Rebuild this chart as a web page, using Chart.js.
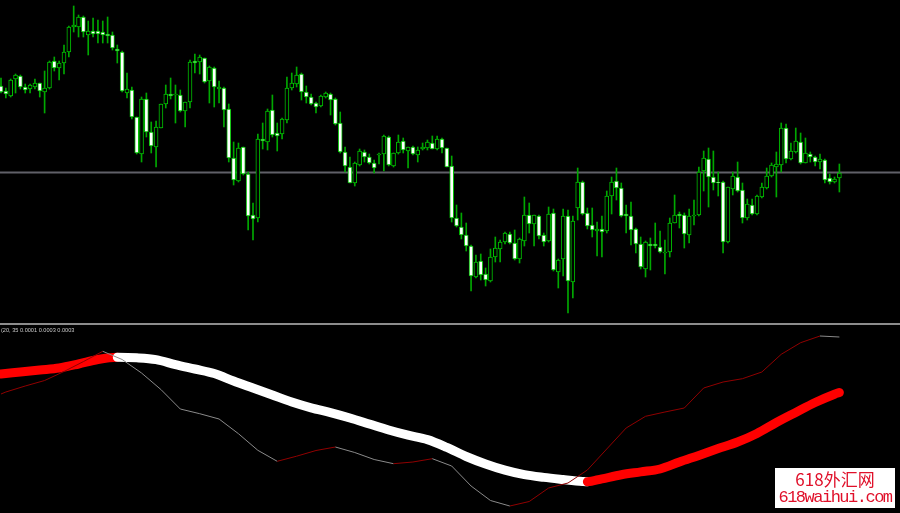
<!DOCTYPE html>
<html>
<head>
<meta charset="utf-8">
<script src="https://cdn.jsdelivr.net/npm/chart.js@4.4.1/dist/chart.umd.min.js"></script>
<style>
    html, body { margin: 0; padding: 0; background: #000; overflow: hidden; }
    #wrap { position: relative; width: 900px; height: 513px; background: #000; }
    #priceChart { position: absolute; left: 0; top: 0; }
    #sep { position: absolute; left: 0; top: 323px; width: 900px; height: 2px; background: #8c8c8c; }
    #indChart { position: absolute; left: 0; top: 325px; }
    #mark {
        position: absolute; left: 775px; top: 468px; width: 120px; height: 40px;
        background: #fff; color: #e0102a; text-align: center;
    }
    #mark .l1 { font: 17px "Noto Sans CJK SC"; line-height: 20px; margin-top: 1px; }
    #mark .l2 { font: 17px "Liberation Mono"; letter-spacing: -1.5px; line-height: 17px; }
</style>
</head>
<body>
<div id="wrap">
    <canvas id="priceChart" width="900" height="323"></canvas>
    <div id="sep"></div>
    <canvas id="indChart" width="900" height="188"></canvas>
    <div id="mark"><div class="l1">618外汇网</div><div class="l2">618waihui.com</div></div>
</div>
<script>
// Velas (una por barra), precios en puntos
const candleOpen = [
    314,309,304,321,324,313,311,313,317,308, 312,339,332,337,348,373,373,383,365,369,
    369,368,366,365,351,348,307,310,283,246, 301,268,253,272,296,306,305,305,289,298,
    339,338,342,319,332,311,312,291,242,219, 253,226,185,182,261,258,290,267,266,280,
    312,316,326,308,303,297,294,303,306,301, 277,248,233,217,235,248,243,237,245,246,
    263,234,247,259,249,253,245,251,252,257, 251,261,252,234,182,173,165,154,123,139,
    126,119,143,151,158,166,157,141,159,185, 176,184,165,159,187,128,141,184,118,192,
    218,187,175,169,171,169,204,219,212,186, 184,171,156,131,156,156,153,147,148,177,
    186,185,165,184,185,229,241,223,218,218, 158,211,223,210,182,195,186,203,212,224,
    233,235,272,241,248,258,237,246,243,238, 240,222,218,222
];
const candleHigh = [
    322,312,321,326,325,316,316,321,317,329, 339,343,339,355,374,394,385,384,379,382,
    380,379,383,368,355,349,327,313,283,303, 307,278,279,296,315,322,315,310,298,340,
    346,345,342,334,333,319,313,296,258,257, 253,228,197,266,277,291,305,277,282,323,
    327,333,327,314,306,298,305,308,307,302, 288,253,243,238,251,250,246,240,247,265,
    264,247,265,262,253,254,253,257,260,264, 264,262,252,244,195,187,177,155,145,146,
    132,151,163,160,168,168,170,162,203,197, 185,185,167,193,191,141,191,190,184,232,
    219,192,192,178,184,209,223,232,217,195, 198,172,163,159,162,177,169,160,182,205,
    188,187,191,200,233,249,252,249,228,219, 213,228,238,217,201,201,205,217,232,237,
    248,277,276,257,272,267,262,248,244,246, 241,226,223,236
];
const candleLow = [
    307,302,303,307,311,307,307,311,303,287, 311,329,320,326,343,368,363,363,345,363,
    357,357,357,350,337,308,302,281,246,238, 263,247,233,272,292,301,277,288,273,292,
    327,326,317,297,293,297,273,238,215,218, 225,170,160,178,251,250,263,249,261,277,
    310,313,300,297,295,287,293,302,285,275, 247,228,217,214,234,238,236,227,236,229,
    234,233,246,247,232,245,238,250,250,251, 250,247,233,178,173,161,149,109,122,120,
    114,118,138,138,156,156,140,137,154,167, 154,161,154,158,129,112,124,87,102,180,
    185,171,163,144,143,167,186,200,183,167, 155,147,131,123,130,152,147,126,143,177,
    172,152,157,175,184,209,193,210,204,147, 157,205,208,177,180,185,185,202,211,223,
    203,228,237,240,247,236,237,238,234,231, 217,216,217,208
];
const candleClose = [
    308,306,320,325,313,310,315,317,309,312, 338,332,337,348,373,375,383,368,369,366,
    366,365,364,352,349,309,311,283,247,301, 268,254,273,296,306,304,306,289,298,338,
    337,343,318,333,313,313,290,242,220,252, 226,184,181,261,259,289,265,264,281,312,
    317,325,308,303,296,293,304,307,300,276, 248,234,217,237,249,243,237,232,246,264,
    235,247,258,250,253,246,250,253,258,251, 261,252,233,182,174,165,154,124,138,125,
    120,143,152,158,167,157,141,161,185,176, 185,164,158,186,130,140,184,119,179,218,
    186,174,170,171,168,204,218,212,184,184, 170,156,133,158,154,154,148,148,177,185,
    184,166,184,185,228,242,223,217,217,158, 213,224,209,182,196,186,204,213,224,235,
    236,272,241,249,259,237,247,243,238,241, 220,218,221,227
];
const levelPrice = 227.5; // línea horizontal

// Indicador: línea gruesa (índice de barra, valor)
const slowIdx = [0,4,8,12,16,20,24,28,32,36,40,44,48,52,56,60,64,68,72,76,80,84,88,92,96,100,
    104,108,112,116,120,121,124,128,132,136,140,144,148,152,156,160,164,168,172,173];
const slowVal = [126,128,130,132,136,140.5,142.7,142.2,140.4,135.4,131,126.5,119,112,105,98,92.2,87.4,82,76,70,64.8,60.4,52.6,43.5,36,
    29.8,25.3,22.6,20.5,18.6,18.3,21.2,25.2,28.1,31,38,44.6,51.4,58,66.5,77.5,87.6,97.5,105.8,107.5];
// Indicador: línea fina
const fastIdx = [0,1,5,9,13,17,21,25,29,33,37,41,45,49,53,57,61,65,69,73,77,81,85,89,93,97,101,105,
    109,113,117,121,125,129,133,137,141,145,149,153,157,161,165,169,173];
const fastVal = [106,108,114,119.5,128.5,138.4,148.7,140.5,127,110.5,91,86.3,81,66.3,49.7,38.7,43.8,49.5,53,47.5,40.5,36.3,38,41.3,34,14,-0.5,-6,
    -1.5,12,17,30,51,72,83.7,88,92,112,118,121.3,128,145.7,157.3,164,163];
const indicatorLabel = '(20, 35 0.0001 0.0003 0.0003';

const wickGreen = '#00a800';
const bodyGreen = '#00c000';
const xMin = -0.206, xMax = 185.51;

const wickData = candleHigh.map((h, i) => ({ x: i, y: [candleLow[i], h] }));
const bodyData = candleOpen.map((o, i) => ({ x: i, y: [o, candleClose[i]] }));
const bodyFill = candleOpen.map((o, i) => candleClose[i] < o ? '#ffffff' : '#000000');

// Dibuja la línea horizontal de nivel con la escala del gráfico
const levelLine = {
    id: 'levelLine',
    beforeDatasetsDraw(chart) {
        const ctx = chart.ctx;
        const y = chart.scales.y.getPixelForValue(levelPrice);
        ctx.save();
        ctx.strokeStyle = '#606068';
        ctx.lineWidth = 2;
        ctx.beginPath();
        ctx.moveTo(chart.chartArea.left, y);
        ctx.lineTo(chart.chartArea.right, y);
        ctx.stroke();
        ctx.restore();
    }
};

new Chart(document.getElementById('priceChart'), {
    type: 'bar',
    data: {
        datasets: [
            {
                data: bodyData, order: 0, grouped: false, barThickness: 4,
                backgroundColor: bodyFill, borderColor: bodyGreen, borderWidth: 1, borderSkipped: false
            },
            {
                data: wickData, order: 1, grouped: false, barThickness: 1,
                backgroundColor: wickGreen, borderWidth: 0
            }
        ]
    },
    options: {
        responsive: false,
        animation: false,
        layout: { padding: 0 },
        plugins: { legend: { display: false }, tooltip: { enabled: false } },
        scales: {
            x: { type: 'linear', min: xMin, max: xMax, offset: false, display: false },
            y: { min: 77, max: 400, display: false }
        }
    },
    plugins: [levelLine]
});

const indLabel = {
    id: 'indLabel',
    afterDraw(chart) {
        const ctx = chart.ctx;
        ctx.save();
        ctx.font = '5.6px "Liberation Sans"';
        ctx.fillStyle = '#c8c8c8';
        ctx.textBaseline = 'top';
        ctx.fillText(indicatorLabel, 1, 3);
        ctx.restore();
    }
};

new Chart(document.getElementById('indChart'), {
    type: 'line',
    data: {
        datasets: [
            {
                data: fastIdx.map((x, i) => ({ x, y: fastVal[i] })),
                order: 0, borderWidth: 1, pointRadius: 0, tension: 0,
                segment: { borderColor: ctx => ctx.p1.parsed.y >= ctx.p0.parsed.y ? '#900000' : '#8a8a8a' }
            },
            {
                data: slowIdx.map((x, i) => ({ x, y: slowVal[i] })),
                order: 1, borderWidth: 9, pointRadius: 0, cubicInterpolationMode: 'monotone',
                borderCapStyle: 'round', borderJoinStyle: 'round',
                segment: { borderColor: ctx => ctx.p1.parsed.y >= ctx.p0.parsed.y ? '#ff0000' : '#ffffff' }
            }
        ]
    },
    options: {
        responsive: false,
        animation: false,
        layout: { padding: 0 },
        plugins: { legend: { display: false }, tooltip: { enabled: false } },
        scales: {
            x: { type: 'linear', min: xMin, max: xMax, display: false },
            y: { min: -13, max: 175, display: false }
        }
    },
    plugins: [indLabel]
});
</script>
</body>
</html>
